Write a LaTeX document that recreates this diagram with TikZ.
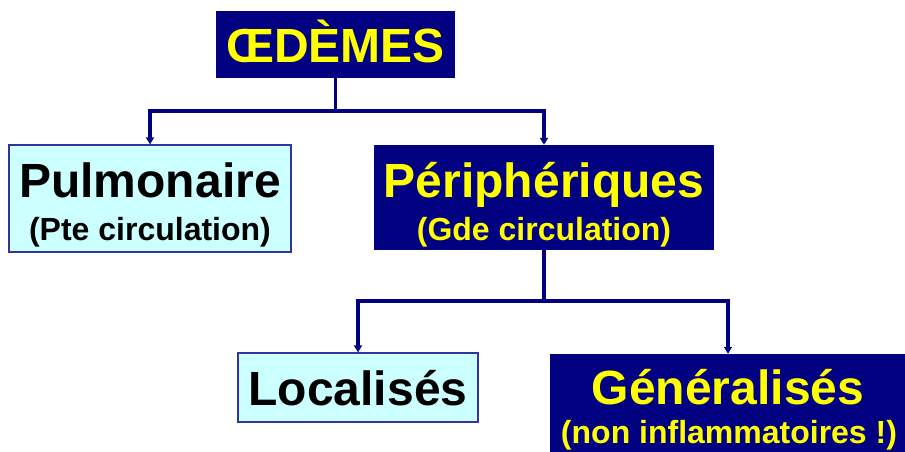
\documentclass[tikz,border=0pt]{standalone}
\usepackage{fontspec}
\setmainfont{Liberation Sans}
\usetikzlibrary{arrows.meta}
\definecolor{navy}{HTML}{000080}
\definecolor{ltcyan}{HTML}{CCFFFF}
\definecolor{yel}{HTML}{FFFF00}
\definecolor{cyanborder}{HTML}{3333A0}
\begin{document}
\begin{tikzpicture}[x=1pt,y=-1pt,
  darkbox/.style={fill=navy, draw=none, inner sep=0pt},
  lightbox/.style={fill=ltcyan, draw=cyanborder, line width=1.3pt, inner sep=0pt},
  bigdark/.style={text=yel, font=\fontsize{48}{48}\selectfont\bfseries, anchor=base, inner sep=0pt},
  smalldark/.style={text=yel, font=\fontsize{32}{32}\selectfont\bfseries, anchor=base, inner sep=0pt},
  biglight/.style={text=black, font=\fontsize{48}{48}\selectfont\bfseries, anchor=base, inner sep=0pt},
  smalllight/.style={text=black, font=\fontsize{32}{32}\selectfont\bfseries, anchor=base, inner sep=0pt},
  conn/.style={draw=navy, line width=3.8pt, -{Triangle[width=8pt,length=7pt]}}
]
\useasboundingbox (0,0) rectangle (905,452);
\fill[white] (0,0) rectangle (905,452);

% boxes
\node[darkbox, minimum width=239pt, minimum height=67pt] (top) at (335.5,44.5) {};
\node[lightbox, minimum width=282pt, minimum height=107pt] (pulm) at (150,198.5) {};
\node[darkbox, minimum width=340pt, minimum height=105pt] (peri) at (544,197.5) {};
\node[lightbox, minimum width=240pt, minimum height=69pt] (loc) at (358,387.5) {};
\node[darkbox, minimum width=356pt, minimum height=130pt] (gen) at (728,419) {};

% texts
\node[bigdark] (tTop) at (335.5,63) {ŒDÈMES};
\node[biglight] (tPulm) at (150,197) {Pulmonaire};
\node[smalllight] (tPulm2) at (150,240) {(Pte circulation)};
\node[bigdark] (tPeri) at (544,197) {Périphériques};
\node[smalldark] (tPeri2) at (544,240) {(Gde circulation)};
\node[biglight] (tLoc) at (358,405) {Localisés};
\node[bigdark] (tGen) at (728,404) {Généralisés};
\node[smalldark] (tGen2) at (729,443) {(non inflammatoires !)};

% connectors
\draw[conn] (top.south) |- (pulm.north |- 0,111) -- (pulm.north);
\draw[conn] (top.south) |- (peri.north |- 0,111) -- (peri.north);
\draw[conn] (peri.south) |- (loc.north |- 0,301) -- (loc.north);
\draw[conn] (peri.south) |- (gen.north |- 0,301) -- (gen.north);
\end{tikzpicture}
\end{document}
